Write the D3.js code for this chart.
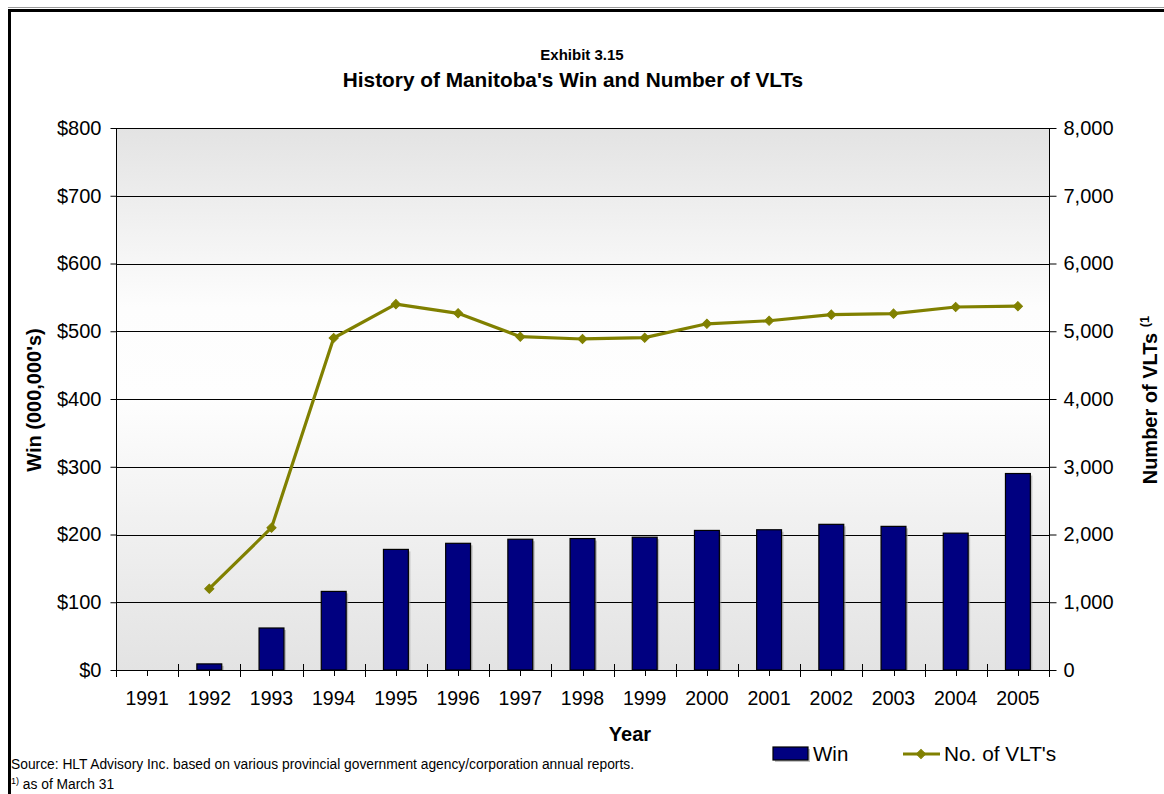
<!DOCTYPE html>
<html lang="en">
<head>
	<meta charset="UTF-8">
	<title>Manitoba Win and VLTs</title>
	<script src="https://cdn.jsdelivr.net/npm/d3@7"></script>
	<style>
		body { margin: 0; background: #fff; }
		text { font-family: "Liberation Sans", Arial, sans-serif; fill: #000; }
	</style>
</head>
<body>
	<div id="container"></div>
	<script>
		var years = ["1991", "1992", "1993", "1994", "1995", "1996", "1997", "1998",
			"1999", "2000", "2001", "2002", "2003", "2004", "2005"];
		var win = [0, 9, 62, 116, 178, 187, 193, 194, 196, 206, 207, 215, 212, 202, 290];
		var vlts = [null, 1200, 2100, 4900, 5400, 5265, 4920, 4886, 4905, 5110, 5155, 5245, 5260, 5358, 5370];
		var winTicks = [0, 100, 200, 300, 400, 500, 600, 700, 800];
		var vltTicks = [0, 1000, 2000, 3000, 4000, 5000, 6000, 7000, 8000];

		var width = 1164;
		var height = 794;
		var pLeft = 116, pRight = 1049, pTop = 128, pBottom = 670;

		var svg = d3.select("#container").append("svg")
				.attr("width", width)
				.attr("height", height);

		// frame
		svg.append("line").attr("x1", 8).attr("x2", width).attr("y1", 7.5).attr("y2", 7.5)
			.style("stroke", "#999").style("stroke-width", 1);
		svg.append("path")
			.attr("d", "M9.5," + height + "V10.5H" + width)
			.style("fill", "none").style("stroke", "#000").style("stroke-width", 3);

		var x = d3.scaleBand().domain(years).range([pLeft, pRight]).padding(0);
		var yWin = d3.scaleLinear().domain([0, 800]).range([pBottom, pTop]);
		var yVlt = d3.scaleLinear().domain([0, 8000]).range([pBottom, pTop]);

		// plot background
		var grad = svg.append("defs").append("linearGradient")
				.attr("id", "bg").attr("x1", 0).attr("x2", 0).attr("y1", 0).attr("y2", 1);
		[[0, "#e3e3e3"], [0.33, "#fdfdfd"], [0.5, "#fefefe"], [0.72, "#f1f1f1"], [1, "#e3e3e3"]]
			.forEach(function (s) {
				grad.append("stop").attr("offset", s[0]).attr("stop-color", s[1]);
			});
		svg.append("rect")
			.attr("x", pLeft).attr("y", pTop)
			.attr("width", pRight - pLeft).attr("height", pBottom - pTop)
			.style("fill", "url(#bg)");

		// gridlines
		svg.selectAll(".grid").data(winTicks.slice(1))
			.enter().append("line")
				.attr("x1", pLeft).attr("x2", pRight)
				.attr("y1", d => Math.round(yWin(d)) + 0.5)
				.attr("y2", d => Math.round(yWin(d)) + 0.5)
				.style("stroke", "#000").style("stroke-width", 1);

		// bars
		var bw = x.bandwidth() * 0.4;
		var barData = years.map((d, i) => ({year: d, v: win[i]})).filter(d => d.v > 0);
		svg.selectAll(".shadow").data(barData)
			.enter().append("rect")
				.attr("x", d => x(d.year) + (x.bandwidth() - bw) / 2 + 2)
				.attr("y", d => yWin(d.v) + 2)
				.attr("width", bw)
				.attr("height", d => pBottom - yWin(d.v) - 2)
				.style("fill", "#9a9a9a").style("opacity", 0.6);
		svg.selectAll(".bar").data(barData)
			.enter().append("rect")
				.attr("x", d => x(d.year) + (x.bandwidth() - bw) / 2)
				.attr("y", d => yWin(d.v))
				.attr("width", bw)
				.attr("height", d => pBottom - yWin(d.v))
				.style("fill", "#000080").style("stroke", "#000").style("stroke-width", 1.2);

		// axes
		var yl = svg.append("g").attr("transform", "translate(" + (pLeft + 0.5) + ",0)")
				.call(d3.axisLeft(yWin).tickValues(winTicks).tickSize(6).tickPadding(9)
					.tickFormat(d => "$" + d));
		var yr = svg.append("g").attr("transform", "translate(" + (pRight + 0.5) + ",0)")
				.call(d3.axisRight(yVlt).tickValues(vltTicks).tickSize(7).tickPadding(7)
					.tickFormat(d3.format(",")));
		[yl, yr].forEach(function (g) {
			g.select(".domain").attr("d", "M0," + pTop + "V" + pBottom);
			g.selectAll("text").style("font-size", "20px")
				.style("font-family", "'Liberation Sans', Arial, sans-serif");
		});

		// x axis: major ticks at category edges, minor at centres
		var xg = svg.append("g");
		xg.append("line").attr("x1", pLeft).attr("x2", pRight + 0.5)
			.attr("y1", pBottom + 0.5).attr("y2", pBottom + 0.5)
			.style("stroke", "#000");
		var edges = years.map(d => x(d)).concat([pRight]);
		xg.selectAll(".major").data(edges)
			.enter().append("line")
				.attr("x1", d => Math.round(d) + 0.5).attr("x2", d => Math.round(d) + 0.5)
				.attr("y1", pBottom - 6).attr("y2", pBottom + 7)
				.style("stroke", "#000");
		xg.selectAll(".minor").data(years)
			.enter().append("line")
				.attr("x1", d => Math.round(x(d) + x.bandwidth() / 2) + 0.5)
				.attr("x2", d => Math.round(x(d) + x.bandwidth() / 2) + 0.5)
				.attr("y1", pBottom).attr("y2", pBottom + 6)
				.style("stroke", "#000");
		xg.selectAll(".xlab").data(years)
			.enter().append("text")
				.attr("x", d => x(d) + x.bandwidth() / 2)
				.attr("y", 705)
				.attr("text-anchor", "middle")
				.style("font-size", "19.5px")
				.text(d => d);

		// VLT line
		var vltData = years.map((d, i) => ({year: d, v: vlts[i]})).filter(d => d.v != null);
		var line = d3.line()
				.x(d => x(d.year) + x.bandwidth() / 2)
				.y(d => yVlt(d.v));
		svg.append("path").datum(vltData)
			.attr("d", line)
			.style("fill", "none").style("stroke", "#808000").style("stroke-width", 3.2)
			.style("stroke-linejoin", "round");
		var diamond = d3.symbol().type(d3.symbolSquare).size(42);
		svg.selectAll(".marker").data(vltData)
			.enter().append("path")
				.attr("d", diamond)
				.attr("transform", d => "translate(" + (x(d.year) + x.bandwidth() / 2) + "," + yVlt(d.v) + ") rotate(45)")
				.style("fill", "#808000").style("stroke", "#808000").style("stroke-width", 1);

		// titles
		svg.append("text").attr("x", 582).attr("y", 60).attr("text-anchor", "middle")
			.style("font-size", "15px").style("font-weight", "bold").text("Exhibit 3.15");
		svg.append("text").attr("x", 573).attr("y", 87).attr("text-anchor", "middle")
			.style("font-size", "20.8px").style("font-weight", "bold")
			.text("History of Manitoba's Win and Number of VLTs");
		svg.append("text").attr("x", 630).attr("y", 741).attr("text-anchor", "middle")
			.style("font-size", "20px").style("font-weight", "bold").text("Year");
		svg.append("text").attr("transform", "translate(41,400) rotate(-90)")
			.attr("text-anchor", "middle")
			.style("font-size", "20px").style("font-weight", "bold").text("Win (000,000's)");
		var rt = svg.append("text").attr("transform", "translate(1157,400) rotate(-90)")
			.attr("text-anchor", "middle")
			.style("font-size", "20px").style("font-weight", "bold");
		rt.append("tspan").text("Number of VLTs ");
		rt.append("tspan").attr("dy", -8).style("font-size", "13px").text("(1");

		// legend
		var lg = svg.append("g");
		lg.append("rect").attr("x", 775).attr("y", 749).attr("width", 35).attr("height", 13)
			.style("fill", "#9a9a9a").style("opacity", 0.6);
		lg.append("rect").attr("x", 773).attr("y", 747).attr("width", 35).attr("height", 13)
			.style("fill", "#000080").style("stroke", "#000").style("stroke-width", 1.2);
		lg.append("text").attr("x", 813).attr("y", 761).style("font-size", "20.5px").text("Win");
		lg.append("line").attr("x1", 903).attr("x2", 940).attr("y1", 754).attr("y2", 754)
			.style("stroke", "#808000").style("stroke-width", 3.2);
		lg.append("path").attr("d", diamond)
			.attr("transform", "translate(921,754) rotate(45)")
			.style("fill", "#808000").style("stroke", "#808000");
		lg.append("text").attr("x", 944).attr("y", 761).style("font-size", "20.8px").text("No. of VLT's");

		// notes
		svg.append("text").attr("x", 11).attr("y", 769).style("font-size", "13.8px")
			.text("Source: HLT Advisory Inc. based on various provincial government agency/corporation annual reports.");
		var fn = svg.append("text").attr("x", 11).attr("y", 789).style("font-size", "13.8px");
		fn.append("tspan").attr("dy", -5).style("font-size", "9px").text("1)");
		fn.append("tspan").attr("dy", 5).text(" as of March 31");
	</script>
</body>
</html>
